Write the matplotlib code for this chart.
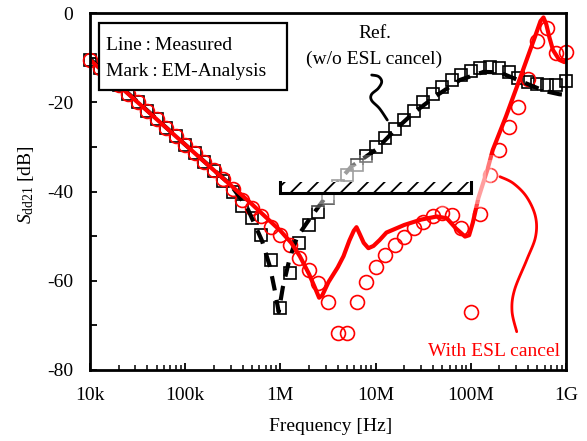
import numpy as np
import matplotlib
matplotlib.use('Agg')
import matplotlib.pyplot as plt
from matplotlib.patches import Rectangle
from matplotlib.ticker import FixedLocator, LogLocator, NullFormatter

plt.rcParams['font.family'] = ['Liberation Serif', 'DejaVu Serif']
plt.rcParams['mathtext.fontset'] = 'custom'
plt.rcParams['mathtext.rm'] = 'Liberation Serif'
plt.rcParams['mathtext.it'] = 'Liberation Serif:italic'
plt.rcParams['axes.unicode_minus'] = False
plt.rcParams['hatch.linewidth'] = 1.3

# ---------------- data ----------------
# EM-analysis frequency grid (Hz), 10 points per decade
freq_em = [1.0e4, 1.26e4, 1.58e4, 2.0e4, 2.51e4, 3.16e4, 3.98e4, 5.01e4, 6.31e4, 7.94e4,
           1.0e5, 1.26e5, 1.58e5, 2.0e5, 2.51e5, 3.16e5, 3.98e5, 5.01e5, 6.31e5, 7.94e5,
           1.0e6, 1.26e6, 1.58e6, 2.0e6, 2.51e6, 3.16e6, 3.98e6, 5.01e6, 6.31e6, 7.94e6,
           1.0e7, 1.26e7, 1.58e7, 2.0e7, 2.51e7, 3.16e7, 3.98e7, 5.01e7, 6.31e7, 7.94e7,
           1.0e8, 1.26e8, 1.58e8, 2.0e8, 2.51e8, 3.16e8, 3.98e8, 5.01e8, 6.31e8, 7.94e8,
           1.0e9]
# Ref. (w/o ESL cancel), EM analysis (squares)
ref_em_db = [-10.5, -12.4, -14.3, -16.2, -18.1, -20.0, -21.9, -23.8, -25.7, -27.6,
             -29.5, -31.4, -33.3, -35.3, -37.6, -40.2, -43.2, -46.0, -49.7, -55.3,
             -66.0, -58.3, -51.5, -47.5, -44.5, -41.5, -38.8, -36.3, -34.0, -32.0,
             -30.0, -28.0, -26.0, -24.0, -22.0, -20.0, -18.2, -16.6, -15.0, -13.9,
             -13.0, -12.4, -12.2, -12.4, -13.2, -14.5, -15.5, -16.0, -16.2, -16.2,
             -15.2]
# With ESL cancel, EM analysis (circles)
esl_em_db = [-10.5, -12.4, -14.3, -16.2, -18.1, -20.0, -21.9, -23.8, -25.7, -27.6,
             -29.5, -31.4, -33.3, -35.2, -37.2, -39.4, -41.9, -43.8, -45.6, -47.9,
             -49.7, -52.0, -55.0, -57.6, -60.6, -64.7, -71.8, -71.8, -64.7, -60.2,
             -57.0, -54.2, -52.0, -50.1, -48.2, -46.8, -45.6, -44.9, -45.3, -48.2,
             -66.9, -45.0, -36.3, -30.7, -25.5, -21.0, -14.8, -6.2, -3.4, -9.0,
             -8.7]
# Ref. measured (black dashed)
ref_meas_f = [1e4, 1e5, 3e5, 4.45e5, 6.4e5, 7.8e5, 8.7e5, 9.6e5, 1.06e6, 1.26e6,
              1.5e6, 1.9e6, 2.4e6, 3.3e6, 5.57e6, 1e7, 1.6e7, 2.5e7, 4.3e7, 7.7e7,
              1.36e8, 2e8, 2.6e8, 4.6e8, 6e8, 8.5e8, 9.5e8, 1e9]
ref_meas_db = [-10.3, -29.5, -38.5, -43.5, -51.0, -57.0, -62.0, -67.0, -61.5, -54.7,
               -50.2, -47.0, -44.0, -40.0, -34.4, -30.7, -26.2, -22.4, -18.6, -15.0,
               -13.2, -13.3, -14.3, -16.5, -17.5, -18.2, -18.3, -17.5]
# With ESL cancel, measured (red solid)
esl_meas_f = [1e4, 1e5, 5e5, 1e6, 1.3e6, 1.6e6, 2e6, 2.3e6, 2.55e6, 2.75e6,
              3.2e6, 4e6, 4.6e6, 5.3e6, 5.9e6, 6.3e6, 6.8e6, 7.5e6, 8.4e6, 9.5e6,
              1.1e7, 1.3e7, 2e7, 3e7, 4.4e7, 5.6e7, 7e7, 8.7e7, 9.6e7, 1.05e8,
              1.2e8, 1.5e8, 1.7e8, 2.34e8, 3.24e8, 4.6e8, 5.4e8, 5.8e8, 6.2e8, 6.7e8,
              7.3e8, 8.5e8, 9.6e8, 1e9]
esl_meas_db = [-10.5, -29.5, -42.8, -48.8, -51.5, -54.5, -58.5, -61.5, -63.8, -63.3,
               -60.3, -57.0, -54.5, -51.0, -48.8, -48.0, -49.5, -51.5, -52.7, -52.2,
               -50.9, -49.2, -47.5, -46.3, -45.6, -46.0, -48.3, -50.1, -49.8, -47.0,
               -41.5, -35.0, -30.7, -23.2, -15.0, -6.0, -1.8, -1.0, -2.5, -5.5,
               -8.3, -10.5, -11.0, -10.6]

x_ticks = [1e4, 1e5, 1e6, 1e7, 1e8, 1e9]
x_tick_labels = ['10k', '100k', '1M', '10M', '100M', '1G']
y_ticks = [0, -20, -40, -60, -80]
y_tick_labels = ['0', '-20', '-40', '-60', '-80']

# ---------------- figure ----------------
W, H = 587, 441
fig = plt.figure(figsize=(W / 100, H / 100), dpi=100)
L, R, T, B = 90, 566, 13, 370
ax = fig.add_axes([L / W, 1 - B / H, (R - L) / W, (B - T) / H])
ax.set_xscale('log')
ax.set_xlim(1e4, 1e9)
ax.set_ylim(-80, 0)


def fp(x, y):
    """image pixel -> figure fraction"""
    return x / W, 1 - y / H


def catmull(pts, n=12):
    pts = np.asarray(pts, float)
    P = np.vstack([pts[0], pts, pts[-1]])
    out = []
    for i in range(1, len(P) - 2):
        p0, p1, p2, p3 = P[i - 1], P[i], P[i + 1], P[i + 2]
        for t in np.linspace(0, 1, n, endpoint=False):
            t2, t3 = t * t, t * t * t
            out.append(0.5 * ((2 * p1) + (-p0 + p2) * t + (2 * p0 - 5 * p1 + 4 * p2 - p3) * t2
                              + (-p0 + 3 * p1 - 3 * p2 + p3) * t3))
    out.append(pts[-1])
    return np.array(out)


# markers
ax.plot(freq_em, ref_em_db, ls='none', marker='s', ms=9.2, mfc='none', mec='black',
        mew=1.2, zorder=3, clip_on=False)
ax.plot(freq_em, esl_em_db, ls='none', marker='o', ms=10, mfc='none', mec='red',
        mew=1.2, zorder=4, clip_on=False)
# measured lines
ax.plot(ref_meas_f, ref_meas_db, color='black', lw=3.0, ls=(0, (3.5, 2.3)), zorder=5)
ax.plot(esl_meas_f, esl_meas_db, color='red', lw=3.0, zorder=6, solid_joinstyle='round')

# faded white region around the hatched bar
for (x0, y0, x1, y1) in [(268, 155, 498, 208), (276, 160, 492, 204), (284, 165, 486, 200)]:
    a0 = fp(x0, y1)
    a1 = fp(x1, y0)
    ax.add_patch(Rectangle(a0, a1[0] - a0[0], a1[1] - a0[1], transform=fig.transFigure,
                           facecolor='white', edgecolor='none', alpha=0.28, zorder=7,
                           clip_on=False))

# hatched bar
hx0, hx1, hy0, hy1 = 280, 471, 181.5, 193
a0 = fp(hx0, hy1)
a1 = fp(hx1, hy0)
ax.add_patch(Rectangle(a0, a1[0] - a0[0], a1[1] - a0[1], transform=fig.transFigure,
                       facecolor='white', edgecolor='black', hatch='//', lw=0,
                       zorder=8, clip_on=False))
bx = [fp(hx0, hy0)[0], fp(hx0, hy1)[0], fp(hx1, hy1)[0], fp(hx1, hy0)[0]]
by = [fp(hx0, hy0)[1], fp(hx0, hy1)[1], fp(hx1, hy1)[1], fp(hx1, hy0)[1]]
ax.plot(bx, by, color='black', lw=2.2, transform=fig.transFigure, zorder=9,
        clip_on=False, solid_joinstyle='miter')

# legend box
a0 = fp(98.5, 90)
a1 = fp(286.5, 23.5)
ax.add_patch(Rectangle(a0, a1[0] - a0[0], a1[1] - a0[1], transform=fig.transFigure,
                       facecolor='white', edgecolor='black', lw=1.6, zorder=10,
                       clip_on=False))
ax.text(*fp(106, 45), 'Line\u2009:\u2009Measured', transform=fig.transFigure, fontsize=14,
        ha='left', va='center', zorder=11)
ax.text(*fp(106, 71), 'Mark\u2009:\u2009EM-Analysis', transform=fig.transFigure, fontsize=14,
        ha='left', va='center', zorder=11)

# annotations
ax.text(*fp(375, 33), 'Ref.', transform=fig.transFigure, fontsize=14, ha='center',
        va='center', zorder=11)
ax.text(*fp(374, 59), '(w/o ESL cancel)', transform=fig.transFigure, fontsize=14,
        ha='center', va='center', zorder=11)
ax.text(*fp(560, 351), 'With ESL cancel', transform=fig.transFigure, fontsize=14,
        ha='right', va='center', color='red', zorder=11)

squig = [(371.7, 75), (378.5, 76.5), (381.7, 81.7), (378.3, 88.3), (371.5, 94.5),
         (371.7, 100.5), (379.5, 108.5), (387.3, 120)]
c = catmull(squig)
ax.plot(c[:, 0] / W, 1 - c[:, 1] / H, color='black', lw=2.0, transform=fig.transFigure,
        zorder=11, clip_on=False, solid_capstyle='round')
conn = [(500, 176.7), (513.3, 183.3), (526.7, 197), (535.5, 216.7), (535.5, 237),
        (526.7, 260), (514.5, 290), (512, 311), (516.7, 331.7)]
c = catmull(conn)
ax.plot(c[:, 0] / W, 1 - c[:, 1] / H, color='red', lw=2.0, transform=fig.transFigure,
        zorder=11, clip_on=False, solid_capstyle='round')

# axes styling
for s in ax.spines.values():
    s.set_linewidth(2.0)
    s.set_zorder(12)
ax.xaxis.set_major_locator(FixedLocator(x_ticks))
ax.set_xticklabels(x_tick_labels)
ax.xaxis.set_minor_locator(LogLocator(base=10, subs=np.arange(2, 10), numticks=20))
ax.xaxis.set_minor_formatter(NullFormatter())
ax.yaxis.set_major_locator(FixedLocator(y_ticks))
ax.set_yticklabels(y_tick_labels)
ax.yaxis.set_minor_locator(FixedLocator([-10, -30, -50, -70]))
ax.tick_params(which='major', direction='in', length=5, width=1.3, pad=12,
               labelsize=14, top=False, right=False)
ax.tick_params(which='minor', direction='in', length=3.5, width=1.1, top=False, right=False)
ax.tick_params(axis='y', which='minor', length=5, width=1.3)

ax.set_xlabel('Frequency [Hz]', fontsize=14)
ax.xaxis.set_label_coords(0.505, -0.135)
ax.set_ylabel(r'$S_{\mathrm{dd21}}$ [dB]', fontsize=14)
ax.yaxis.set_label_coords((36 - L) / (R - L), 0.52)

fig.savefig('out.png', dpi=100)
